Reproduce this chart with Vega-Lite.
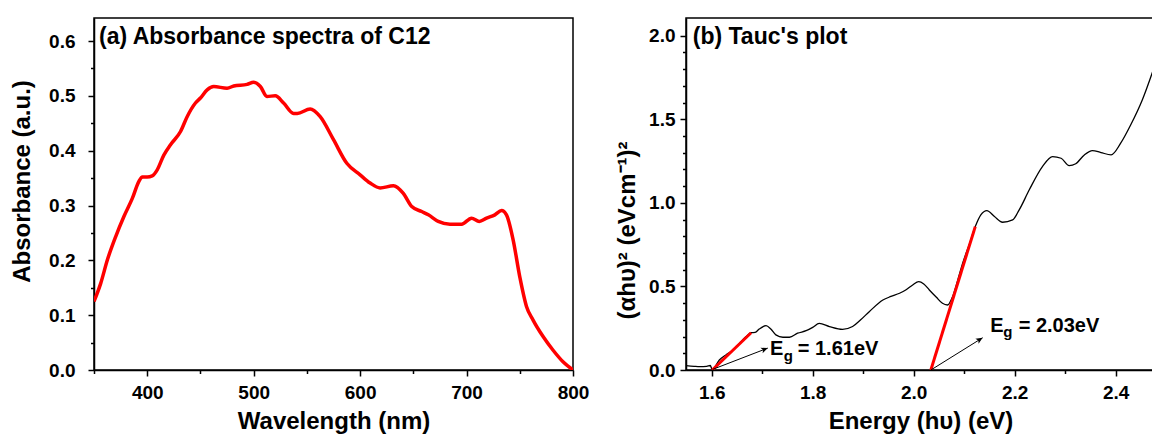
{
  "$schema": "https://vega.github.io/schema/vega-lite/v6.json",
  "background": "white",
  "padding": {"left": 9, "top": 17, "right": 0, "bottom": 0},
  "spacing": 24,
  "config": {
    "font": "Liberation Sans",
    "view": {"stroke": "black", "strokeWidth": 1.5},
    "axis": {
      "domainColor": "black", "domainWidth": 1.5,
      "tickColor": "black", "tickWidth": 1.5,
      "labelFont": "Liberation Sans", "labelFontWeight": "bold", "labelFontSize": 19, "labelColor": "black",
      "titleFont": "Liberation Sans", "titleFontWeight": "bold", "titleFontSize": 24, "titleColor": "black",
      "grid": false, "labelOverlap": false, "labelFlush": false, "labelBound": false
    }
  },
  "datasets": {
    "abs": [
      {"wavelength": 350, "absorbance": 0.125},
      {"wavelength": 356.3, "absorbance": 0.158},
      {"wavelength": 362.6, "absorbance": 0.201},
      {"wavelength": 370.3, "absorbance": 0.243},
      {"wavelength": 378.1, "absorbance": 0.280},
      {"wavelength": 386, "absorbance": 0.313},
      {"wavelength": 392.2, "absorbance": 0.344},
      {"wavelength": 395.4, "absorbance": 0.352},
      {"wavelength": 400, "absorbance": 0.352},
      {"wavelength": 404.7, "absorbance": 0.354},
      {"wavelength": 409.4, "absorbance": 0.365},
      {"wavelength": 415.6, "absorbance": 0.392},
      {"wavelength": 421.9, "absorbance": 0.411},
      {"wavelength": 431.3, "absorbance": 0.435},
      {"wavelength": 437.5, "absorbance": 0.462},
      {"wavelength": 445.3, "absorbance": 0.487},
      {"wavelength": 450, "absorbance": 0.496},
      {"wavelength": 456.3, "absorbance": 0.511},
      {"wavelength": 462.5, "absorbance": 0.517},
      {"wavelength": 475, "absorbance": 0.514},
      {"wavelength": 481.3, "absorbance": 0.518},
      {"wavelength": 493.8, "absorbance": 0.521},
      {"wavelength": 500, "absorbance": 0.525},
      {"wavelength": 506.3, "absorbance": 0.517},
      {"wavelength": 512.5, "absorbance": 0.499},
      {"wavelength": 520.3, "absorbance": 0.500},
      {"wavelength": 528.1, "absorbance": 0.487},
      {"wavelength": 537.5, "absorbance": 0.468},
      {"wavelength": 541, "absorbance": 0.468},
      {"wavelength": 553.1, "absorbance": 0.476},
      {"wavelength": 562.5, "absorbance": 0.462},
      {"wavelength": 575, "absorbance": 0.420},
      {"wavelength": 587.5, "absorbance": 0.377},
      {"wavelength": 600, "absorbance": 0.356},
      {"wavelength": 609.4, "absorbance": 0.341},
      {"wavelength": 618.8, "absorbance": 0.332},
      {"wavelength": 631.3, "absorbance": 0.336},
      {"wavelength": 640.6, "absorbance": 0.322},
      {"wavelength": 648.5, "absorbance": 0.298},
      {"wavelength": 657.9, "absorbance": 0.289},
      {"wavelength": 664.1, "absorbance": 0.283},
      {"wavelength": 673.4, "absorbance": 0.271},
      {"wavelength": 684.4, "absorbance": 0.266},
      {"wavelength": 695.4, "absorbance": 0.266},
      {"wavelength": 704.7, "absorbance": 0.277},
      {"wavelength": 711.9, "absorbance": 0.271},
      {"wavelength": 718.8, "absorbance": 0.277},
      {"wavelength": 726.6, "absorbance": 0.283},
      {"wavelength": 732.9, "absorbance": 0.291},
      {"wavelength": 737.5, "absorbance": 0.283},
      {"wavelength": 743.8, "absorbance": 0.237},
      {"wavelength": 750, "absorbance": 0.170},
      {"wavelength": 756.3, "absorbance": 0.116},
      {"wavelength": 762.5, "absorbance": 0.091},
      {"wavelength": 771.9, "absorbance": 0.061},
      {"wavelength": 781.3, "absorbance": 0.036},
      {"wavelength": 790.6, "absorbance": 0.015},
      {"wavelength": 800, "absorbance": 0.0}
    ],
    "tauc": [
      {"energy": 1.549, "tauc": 0.026},
      {"energy": 1.565, "tauc": 0.022},
      {"energy": 1.576, "tauc": 0.020},
      {"energy": 1.590, "tauc": 0.022},
      {"energy": 1.597, "tauc": 0.027},
      {"energy": 1.601, "tauc": 0.003},
      {"energy": 1.615, "tauc": 0.06},
      {"energy": 1.628, "tauc": 0.09},
      {"energy": 1.642, "tauc": 0.12},
      {"energy": 1.655, "tauc": 0.16},
      {"energy": 1.668, "tauc": 0.20},
      {"energy": 1.678, "tauc": 0.223},
      {"energy": 1.686, "tauc": 0.225},
      {"energy": 1.694, "tauc": 0.245},
      {"energy": 1.7075, "tauc": 0.265},
      {"energy": 1.717, "tauc": 0.245},
      {"energy": 1.727, "tauc": 0.21},
      {"energy": 1.741, "tauc": 0.196},
      {"energy": 1.754, "tauc": 0.196},
      {"energy": 1.770, "tauc": 0.22},
      {"energy": 1.787, "tauc": 0.235},
      {"energy": 1.800, "tauc": 0.255},
      {"energy": 1.813, "tauc": 0.279},
      {"energy": 1.833, "tauc": 0.26},
      {"energy": 1.859, "tauc": 0.243},
      {"energy": 1.879, "tauc": 0.26},
      {"energy": 1.895, "tauc": 0.30},
      {"energy": 1.912, "tauc": 0.349},
      {"energy": 1.939, "tauc": 0.419},
      {"energy": 1.955, "tauc": 0.44},
      {"energy": 1.972, "tauc": 0.459},
      {"energy": 1.985, "tauc": 0.48},
      {"energy": 1.998, "tauc": 0.509},
      {"energy": 2.010, "tauc": 0.529},
      {"energy": 2.020, "tauc": 0.515},
      {"energy": 2.031, "tauc": 0.479},
      {"energy": 2.045, "tauc": 0.435},
      {"energy": 2.057, "tauc": 0.399},
      {"energy": 2.067, "tauc": 0.389},
      {"energy": 2.077, "tauc": 0.439},
      {"energy": 2.087, "tauc": 0.535},
      {"energy": 2.097, "tauc": 0.639},
      {"energy": 2.110, "tauc": 0.75},
      {"energy": 2.122, "tauc": 0.858},
      {"energy": 2.133, "tauc": 0.928},
      {"energy": 2.145, "tauc": 0.954},
      {"energy": 2.160, "tauc": 0.918},
      {"energy": 2.176, "tauc": 0.884},
      {"energy": 2.196, "tauc": 0.898},
      {"energy": 2.209, "tauc": 0.958},
      {"energy": 2.229, "tauc": 1.078},
      {"energy": 2.255, "tauc": 1.217},
      {"energy": 2.275, "tauc": 1.277},
      {"energy": 2.292, "tauc": 1.267},
      {"energy": 2.308, "tauc": 1.223},
      {"energy": 2.321, "tauc": 1.234},
      {"energy": 2.338, "tauc": 1.287},
      {"energy": 2.354, "tauc": 1.313},
      {"energy": 2.371, "tauc": 1.301},
      {"energy": 2.391, "tauc": 1.287},
      {"energy": 2.410, "tauc": 1.357},
      {"energy": 2.430, "tauc": 1.467},
      {"energy": 2.453, "tauc": 1.617},
      {"energy": 2.478, "tauc": 1.826}
    ],
    "fit": [
      {"fit": "Eg1", "energy": 1.601, "tauc": 0.0},
      {"fit": "Eg1", "energy": 1.678, "tauc": 0.223},
      {"fit": "Eg2", "energy": 2.034, "tauc": 0.0},
      {"fit": "Eg2", "energy": 2.122, "tauc": 0.858}
    ],
    "arrows": [
      {"arrow": "a1", "energy": 1.602, "tauc": 0.004},
      {"arrow": "a1", "energy": 1.711, "tauc": 0.131},
      {"arrow": "a2", "energy": 2.034, "tauc": 0.0},
      {"arrow": "a2", "energy": 2.1366, "tauc": 0.193}
    ]
  },
  "hconcat": [
    {
      "width": 479,
      "height": 352,
      "layer": [
        {
          "data": {"name": "abs"},
          "mark": {"type": "line", "color": "#ff0000", "strokeWidth": 3.5, "interpolate": "monotone", "clip": true},
          "encoding": {
            "x": {
              "field": "wavelength", "type": "quantitative",
              "scale": {"domain": [350, 800], "nice": false, "zero": false},
              "axis": {
                "title": "Wavelength (nm)",
                "values": [350, 400, 450, 500, 550, 600, 650, 700, 750, 800],
                "tickCount": 100,
                "format": "d",
                "labelOverlap": false,
                "labelExpr": "datum.value % 100 === 0 ? datum.label : ''",
                "tickSize": {"condition": {"test": "datum.value % 100 === 0", "value": 6}, "value": 3.5},
                "labelBaseline": "alphabetic",
                "labelPadding": 22,
                "titleBaseline": "alphabetic",
                "titleY": 58
              }
            },
            "y": {
              "field": "absorbance", "type": "quantitative",
              "scale": {"domain": [0, 0.642], "nice": false, "zero": false},
              "axis": {
                "title": "Absorbance (a.u.)",
                "values": [0, 0.05, 0.1, 0.15, 0.2, 0.25, 0.3, 0.35, 0.4, 0.45, 0.5, 0.55, 0.6],
                "tickCount": 100,
                "format": ".1f",
                "labelOverlap": false,
                "labelExpr": "round(datum.value * 100) % 10 === 0 ? datum.label : ''",
                "tickSize": {"condition": {"test": "round(datum.value * 100) % 10 === 0", "value": 6}, "value": 3.5},
                "labelPadding": 13,
                "titleBaseline": "bottom",
                "titleX": -60,
                "titleY": 163
              }
            }
          }
        },
        {
          "data": {"values": [{"wavelength": 354.7, "absorbance": 0.594, "text": "(a) Absorbance spectra of C12"}]},
          "mark": {"type": "text", "align": "left", "baseline": "alphabetic", "fontSize": 23, "fontWeight": "bold", "font": "Liberation Sans", "color": "black"},
          "encoding": {
            "x": {"field": "wavelength", "type": "quantitative"},
            "y": {"field": "absorbance", "type": "quantitative"},
            "text": {"field": "text"}
          }
        }
      ]
    },
    {
      "width": 469,
      "height": 352,
      "layer": [
        {
          "data": {"name": "tauc"},
          "mark": {"type": "line", "color": "black", "strokeWidth": 1.3, "interpolate": "monotone", "clip": true},
          "encoding": {
            "x": {
              "field": "energy", "type": "quantitative",
              "scale": {"domain": [1.549, 2.478], "nice": false, "zero": false},
              "axis": {
                "title": "Energy (hυ) (eV)",
                "values": [1.6, 1.7, 1.8, 1.9, 2.0, 2.1, 2.2, 2.3, 2.4],
                "tickCount": 100,
                "format": ".1f",
                "labelOverlap": false,
                "labelExpr": "round(datum.value * 10) % 2 === 0 ? datum.label : ''",
                "tickSize": {"condition": {"test": "round(datum.value * 10) % 2 === 0", "value": 6}, "value": 3.5},
                "labelBaseline": "alphabetic",
                "labelPadding": 22,
                "titleBaseline": "alphabetic",
                "titleY": 58
              }
            },
            "y": {
              "field": "tauc", "type": "quantitative",
              "scale": {"domain": [0, 2.106], "nice": false, "zero": false},
              "axis": {
                "title": "(αhυ)² (eVcm⁻¹)²",
                "values": [0, 0.1, 0.2, 0.3, 0.4, 0.5, 0.6, 0.7, 0.8, 0.9, 1.0, 1.1, 1.2, 1.3, 1.4, 1.5, 1.6, 1.7, 1.8, 1.9, 2.0],
                "tickCount": 100,
                "format": ".1f",
                "labelOverlap": false,
                "labelExpr": "round(datum.value * 10) % 5 === 0 ? datum.label : ''",
                "tickSize": {"condition": {"test": "round(datum.value * 10) % 5 === 0", "value": 6}, "value": 3.5},
                "labelPadding": 5,
                "titleBaseline": "bottom",
                "titleX": -47,
                "titleY": 212
              }
            }
          }
        },
        {
          "data": {"name": "fit"},
          "mark": {"type": "line", "color": "#ff0000", "strokeWidth": 3, "clip": true},
          "encoding": {
            "x": {"field": "energy", "type": "quantitative"},
            "y": {"field": "tauc", "type": "quantitative"},
            "detail": {"field": "fit"}
          }
        },
        {
          "data": {"name": "arrows"},
          "mark": {"type": "line", "color": "black", "strokeWidth": 1, "clip": true},
          "encoding": {
            "x": {"field": "energy", "type": "quantitative"},
            "y": {"field": "tauc", "type": "quantitative"},
            "detail": {"field": "arrow"}
          }
        },
        {
          "data": {"values": [{"energy": 1.711, "tauc": 0.131}]},
          "mark": {"type": "point", "shape": "M0,0L-1,-0.45L-0.75,0L-1,0.45Z", "filled": true, "color": "black", "opacity": 1, "size": 180, "angle": -21},
          "encoding": {
            "x": {"field": "energy", "type": "quantitative"},
            "y": {"field": "tauc", "type": "quantitative"}
          }
        },
        {
          "data": {"values": [{"energy": 2.1366, "tauc": 0.193}]},
          "mark": {"type": "point", "shape": "M0,0L-1,-0.45L-0.75,0L-1,0.45Z", "filled": true, "color": "black", "opacity": 1, "size": 180, "angle": -32},
          "encoding": {
            "x": {"field": "energy", "type": "quantitative"},
            "y": {"field": "tauc", "type": "quantitative"}
          }
        },
        {
          "data": {"values": [{"energy": 1.5624, "tauc": 1.949, "text": "(b) Tauc's plot"}]},
          "mark": {"type": "text", "align": "left", "baseline": "alphabetic", "fontSize": 23, "fontWeight": "bold", "font": "Liberation Sans", "color": "black"},
          "encoding": {
            "x": {"field": "energy", "type": "quantitative"},
            "y": {"field": "tauc", "type": "quantitative"},
            "text": {"field": "text"}
          }
        },
        {
          "data": {"values": [
            {"energy": 1.7154, "tauc": 0.09, "text": "E"},
            {"energy": 1.7703, "tauc": 0.09, "text": "= 1.61eV"},
            {"energy": 2.1519, "tauc": 0.2293, "text": "E"},
            {"energy": 2.2079, "tauc": 0.2293, "text": "= 2.03eV"}
          ]},
          "mark": {"type": "text", "align": "left", "baseline": "alphabetic", "fontSize": 20, "fontWeight": "bold", "font": "Liberation Sans", "color": "black"},
          "encoding": {
            "x": {"field": "energy", "type": "quantitative"},
            "y": {"field": "tauc", "type": "quantitative"},
            "text": {"field": "text"}
          }
        },
        {
          "data": {"values": [
            {"energy": 1.7426, "tauc": 0.054, "text": "g"},
            {"energy": 2.1774, "tauc": 0.1976, "text": "g"}
          ]},
          "mark": {"type": "text", "align": "left", "baseline": "alphabetic", "fontSize": 15, "fontWeight": "bold", "font": "Liberation Sans", "color": "black"},
          "encoding": {
            "x": {"field": "energy", "type": "quantitative"},
            "y": {"field": "tauc", "type": "quantitative"},
            "text": {"field": "text"}
          }
        }
      ]
    }
  ]
}
